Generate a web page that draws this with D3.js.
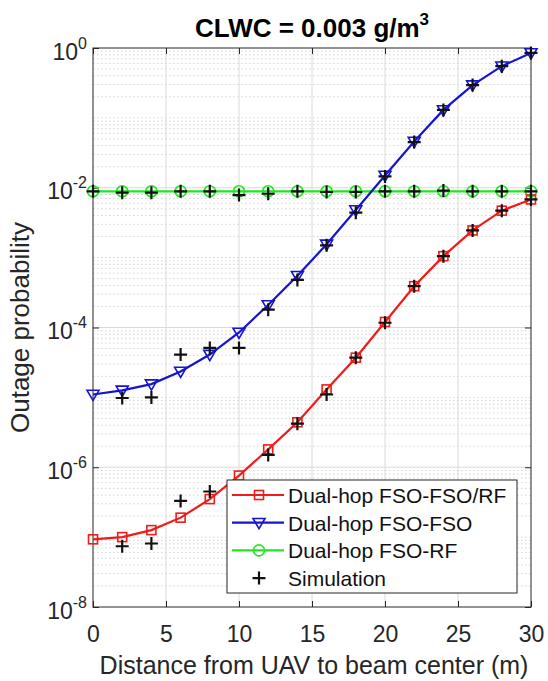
<!DOCTYPE html>
<html>
<head>
<meta charset="utf-8">
<script src="https://cdn.jsdelivr.net/npm/d3@7"></script>
<style>
  html, body { margin: 0; padding: 0; background: #fff; }
  svg { display: block; }
  text { font-family: "Liberation Sans", Arial, Helvetica, sans-serif; }
</style>
</head>
<body>
<svg id="chart" width="548" height="681"></svg>
<script>
// Distance from UAV to beam centre (m)
const distance = [0, 2, 4, 6, 8, 10, 12, 14, 16, 18, 20, 22, 24, 26, 28, 30];

// Analytical outage probability per scheme
const fsoFsoRf = [9.3e-8, 1.0e-7, 1.26e-7, 1.9e-7, 3.5e-7, 7.6e-7, 1.8e-6, 4.4e-6,
                  1.3e-5, 3.7e-5, 1.2e-4, 3.9e-4, 1.05e-3, 2.45e-3, 4.7e-3, 6.8e-3];
const fsoFso   = [1.1e-5, 1.26e-5, 1.55e-5, 2.35e-5, 4.1e-5, 8.5e-5, 2.1e-4, 5.5e-4,
                  1.55e-3, 4.8e-3, 1.5e-2, 4.6e-2, 0.13, 0.295, 0.55, 0.85];
const fsoRf    = [8.9e-3, 8.9e-3, 8.9e-3, 8.9e-3, 8.9e-3, 8.9e-3, 8.9e-3, 8.9e-3,
                  8.9e-3, 8.9e-3, 8.9e-3, 8.9e-3, 8.9e-3, 8.9e-3, 8.9e-3, 8.9e-3];

// Monte-Carlo simulation results
const simDistance   = [2, 4, 6, 8, 10, 12, 14, 16, 18, 20, 22, 24, 26, 28, 30];
const simFsoFsoRf   = [7.4e-8, 8.1e-8, 3.3e-7, 4.5e-7, 5.0e-7, 1.5e-6, 4.2e-6, 1.1e-5,
                       3.7e-5, 1.17e-4, 3.9e-4, 1.05e-3, 2.45e-3, 4.7e-3, 6.8e-3];
const simFsoFso     = [9.8e-6, 1.0e-5, 4.1e-5, 5.1e-5, 5.1e-5, 1.8e-4, 4.8e-4, 1.5e-3,
                       4.4e-3, 1.45e-2, 4.5e-2, 0.13, 0.295, 0.55, 0.85];
const simFsoRf      = [8.9e-3, 8.5e-3, 8.5e-3, 8.9e-3, 8.9e-3, 7.85e-3, 8.2e-3, 8.9e-3,
                       8.7e-3, 8.7e-3, 8.9e-3, 8.9e-3, 9.1e-3, 8.9e-3, 8.9e-3, 8.9e-3];

const xTicks = [0, 5, 10, 15, 20, 25, 30];
const yTickExponents = [0, -2, -4, -6, -8];

const seriesNames = ["Dual-hop FSO-FSO/RF", "Dual-hop FSO-FSO", "Dual-hop FSO-RF", "Simulation"];

const svg = d3.select("#chart");
const W = 548, H = 681;
const plot = { left: 93, right: 531, top: 48, bottom: 607 };

const x = d3.scaleLinear().domain([0, 30]).range([plot.left, plot.right]);
const y = d3.scaleLog().domain([1e-8, 1]).range([plot.bottom, plot.top]);

const axisColor = "#262626";
const red = "#f21a1a", blue = "#1414d2", green = "#22e622";

svg.append("rect").attr("width", W).attr("height", H).attr("fill", "#fff");

// Minor grid (dotted) at every m·10^k that is not a labelled decade
const minorVals = [];
for (let k = -8; k < 0; k++) {
  for (let m = 1; m <= 9; m++) {
    const v = m * Math.pow(10, k);
    if (m === 1 && yTickExponents.includes(k)) continue;
    minorVals.push(v);
  }
}
const grid = svg.append("g");
grid.selectAll("line.minor").data(minorVals).join("line")
  .attr("x1", plot.left).attr("x2", plot.right)
  .attr("y1", d => y(d)).attr("y2", d => y(d))
  .attr("stroke", "#d4d4d4").attr("stroke-width", 1)
  .attr("stroke-dasharray", "1.5,2.5");

// Major grid
grid.selectAll("line.vx").data(xTicks.slice(1, -1)).join("line")
  .attr("x1", d => x(d)).attr("x2", d => x(d))
  .attr("y1", plot.top).attr("y2", plot.bottom)
  .attr("stroke", "#dadada").attr("stroke-width", 1);
grid.selectAll("line.hy").data(yTickExponents.slice(1, -1)).join("line")
  .attr("x1", plot.left).attr("x2", plot.right)
  .attr("y1", d => y(Math.pow(10, d))).attr("y2", d => y(Math.pow(10, d)))
  .attr("stroke", "#dadada").attr("stroke-width", 1);

// Axes with inward ticks
const xAxis = d3.axisBottom(x).tickValues(xTicks).tickSizeInner(-6).tickSizeOuter(0).tickPadding(18.5);
const gx = svg.append("g").attr("transform", `translate(0,${plot.bottom})`).call(xAxis);
gx.select(".domain").remove();
gx.selectAll("line").attr("stroke", axisColor);
gx.selectAll("text").attr("font-size", 23).attr("fill", axisColor)
  .attr("font-family", "'Liberation Sans', Arial, sans-serif");

const xAxisTop = d3.axisTop(x).tickValues(xTicks).tickSizeInner(-6).tickSizeOuter(0).tickFormat("");
const gxt = svg.append("g").attr("transform", `translate(0,${plot.top})`).call(xAxisTop);
gxt.select(".domain").remove();
gxt.selectAll("line").attr("stroke", axisColor);

const yTickVals = yTickExponents.map(e => Math.pow(10, e));
const yAxis = d3.axisLeft(y).tickValues(yTickVals).tickSizeInner(-6).tickSizeOuter(0).tickFormat("");
const gy = svg.append("g").attr("transform", `translate(${plot.left},0)`).call(yAxis);
gy.select(".domain").remove();
gy.selectAll("line").attr("stroke", axisColor);
gy.selectAll(".tick text").remove();
gy.selectAll(".tick").each(function (d) {
  const e = Math.round(Math.log10(d));
  const t = d3.select(this).append("text")
    .attr("x", -6).attr("y", 11)
    .attr("text-anchor", "end").attr("fill", axisColor)
    .attr("font-family", "'Liberation Sans', Arial, sans-serif");
  t.append("tspan").attr("font-size", 23).text("10");
  t.append("tspan").attr("font-size", 16).attr("dy", -11).text(String(e));
});

const yAxisRight = d3.axisRight(y).tickValues(yTickVals).tickSizeInner(-6).tickSizeOuter(0).tickFormat("");
const gyr = svg.append("g").attr("transform", `translate(${plot.right},0)`).call(yAxisRight);
gyr.select(".domain").remove();
gyr.selectAll("line").attr("stroke", axisColor);

// Box
svg.append("rect")
  .attr("x", plot.left).attr("y", plot.top)
  .attr("width", plot.right - plot.left).attr("height", plot.bottom - plot.top)
  .attr("fill", "none").attr("stroke", axisColor).attr("stroke-width", 1);

// Curves
const line = d3.line().x(d => x(d[0])).y(d => y(d[1]));
const curves = [
  { vals: fsoFsoRf, color: red,   marker: "square" },
  { vals: fsoFso,   color: blue,  marker: "triangle" },
  { vals: fsoRf,    color: green, marker: "circle" }
];

function drawMarker(g, type, cx, cy, color) {
  if (type === "square") {
    g.append("rect").attr("x", cx - 4.5).attr("y", cy - 4.5).attr("width", 9).attr("height", 9)
      .attr("fill", "none").attr("stroke", color).attr("stroke-width", 1.6);
  } else if (type === "triangle") {
    const s = 6;
    g.append("path")
      .attr("d", `M${cx - s},${cy - s * 0.7}L${cx + s},${cy - s * 0.7}L${cx},${cy + s * 1.0}Z`)
      .attr("fill", "none").attr("stroke", color).attr("stroke-width", 1.6);
  } else if (type === "circle") {
    g.append("circle").attr("cx", cx).attr("cy", cy).attr("r", 5.5)
      .attr("fill", "none").attr("stroke", color).attr("stroke-width", 1.6);
  } else if (type === "plus") {
    const s = 6.5;
    g.append("path").attr("d", `M${cx - s},${cy}H${cx + s}M${cx},${cy - s}V${cy + s}`)
      .attr("stroke", color).attr("stroke-width", 2.2).attr("fill", "none");
  }
}

const gCurves = svg.append("g");
curves.slice().reverse().forEach(c => {
  const pts = distance.map((d, i) => [d, c.vals[i]]);
  gCurves.append("path").attr("d", line(pts))
    .attr("fill", "none").attr("stroke", c.color).attr("stroke-width", 2.2);
  pts.forEach(p => drawMarker(gCurves, c.marker, x(p[0]), y(p[1]), c.color));
});

// Simulation points
const gSim = svg.append("g");
[[simDistance, simFsoFsoRf], [simDistance, simFsoFso], [distance, simFsoRf]].forEach(([xs, ys]) => {
  xs.forEach((d, i) => drawMarker(gSim, "plus", x(d), y(ys[i]), "#111"));
});

// Legend
const leg = svg.append("g").attr("transform", "translate(227,480)");
leg.append("rect").attr("width", 290).attr("height", 113)
  .attr("fill", "#fff").attr("stroke", axisColor).attr("stroke-width", 1);
const legendMarks = [
  { color: red, marker: "square" },
  { color: blue, marker: "triangle" },
  { color: green, marker: "circle" },
  { color: "#111", marker: "plus" }
];
seriesNames.forEach((name, i) => {
  const cy = 15 + i * 27.7;
  const m = legendMarks[i];
  if (m.marker !== "plus") {
    leg.append("line").attr("x1", 5).attr("x2", 57).attr("y1", cy).attr("y2", cy)
      .attr("stroke", m.color).attr("stroke-width", 2.2);
  }
  drawMarker(leg, m.marker, 32, cy, m.color);
  leg.append("text").attr("x", 61).attr("y", cy + 8)
    .attr("font-size", 21).attr("fill", "#111").text(name);
});

// Title and axis labels
const title = svg.append("text").attr("x", (plot.left + plot.right) / 2).attr("y", 37)
  .attr("text-anchor", "middle").attr("font-weight", "bold").attr("font-size", 26).attr("fill", "#000");
title.append("tspan").text("CLWC = 0.003 g/m");
title.append("tspan").attr("font-size", 17).attr("dy", -12).text("3");

svg.append("text").attr("x", 314).attr("y", 674)
  .attr("text-anchor", "middle").attr("font-size", 25).attr("fill", axisColor)
  .text("Distance from UAV to beam center (m)");

svg.append("text")
  .attr("transform", `translate(29,${(plot.top + plot.bottom) / 2}) rotate(-90)`)
  .attr("text-anchor", "middle").attr("font-size", 26).attr("fill", axisColor)
  .text("Outage probability");
</script>
</body>
</html>
